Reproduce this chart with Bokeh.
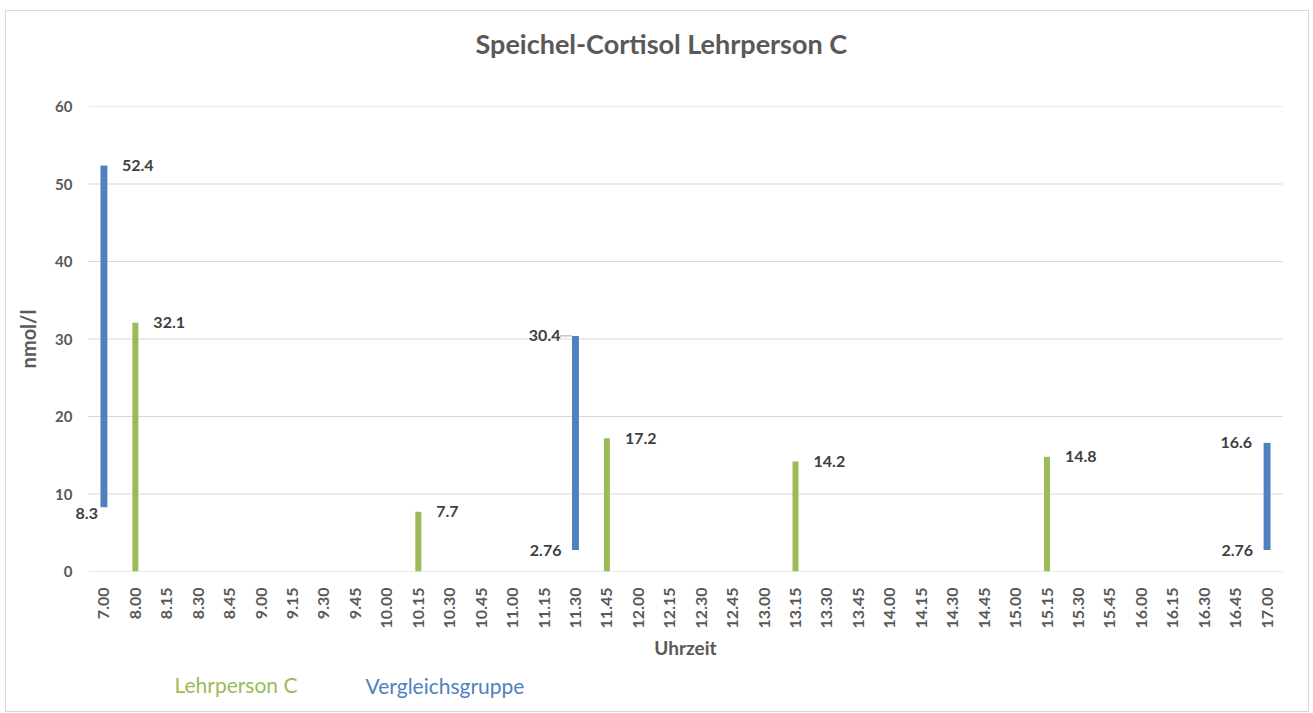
from bokeh.plotting import figure
from bokeh.models import (FactorRange, Range1d, ColumnDataSource, LabelSet,
                          LinearAxis, FixedTicker, Title)
from bokeh.core.properties import value
from bokeh.embed import file_html
from bokeh.resources import INLINE

times = ["7.00", "8.00", "8.15", "8.30", "8.45", "9.00", "9.15", "9.30", "9.45",
         "10.00", "10.15", "10.30", "10.45", "11.00", "11.15", "11.30", "11.45",
         "12.00", "12.15", "12.30", "12.45", "13.00", "13.15", "13.30", "13.45",
         "14.00", "14.15", "14.30", "14.45", "15.00", "15.15", "15.30", "15.45",
         "16.00", "16.15", "16.30", "16.45", "17.00"]

teacher_times = ["8.00", "10.15", "11.45", "13.15", "15.15"]
teacher_values = [32.1, 7.7, 17.2, 14.2, 14.8]

group_times = ["7.00", "11.30", "17.00"]
group_low = [8.3, 2.76, 2.76]
group_high = [52.4, 30.4, 16.6]

y_ticks = [0, 10, 20, 30, 40, 50, 60]

series_names = ["Lehrperson C", "Vergleichsgruppe"]

BLUE = "#4F81BD"
GREEN = "#9BBB59"
TXT = "#404040"
TICK = "#595959"
GRID = "#d9d9d9"
FONT = "Lato"

xr = FactorRange(*times, range_padding=0.5, range_padding_units="absolute")
p = figure(x_range=xr, y_range=Range1d(0, 60),
           width=1304, height=702, output_backend="svg", toolbar_location=None,
           min_border_left=66, min_border_right=12, min_border_top=95, min_border_bottom=142)
p.styles = {"border": "1px solid #d9d9d9", "margin-left": "5px", "margin-top": "10px"}
p.outline_line_color = None
p.background_fill_color = "white"
p.border_fill_color = "white"

# spacer between frame and title, then the title (outermost)
p.add_layout(Title(text=" ", text_font_size="1px", standoff=44), "above")
p.title.text = "Speichel-Cortisol Lehrperson C"
p.title.align = "left"
p.title.offset = 403
p.title.standoff = 0
p.title.text_font = FONT
p.title.text_font_style = "bold"
p.title.text_font_size = "27px"
p.title.text_color = TICK

# horizontal grid lines spanning the category area
p.xgrid.grid_line_color = None
p.ygrid.grid_line_color = None
p.segment(x0=[0] * len(y_ticks), x1=[len(times)] * len(y_ticks),
          y0=y_ticks, y1=y_ticks, line_color=GRID, line_width=1)

# y axis
p.yaxis.ticker = y_ticks
p.yaxis.axis_line_color = None
p.yaxis.major_tick_line_color = None
p.yaxis.minor_tick_line_color = None
p.yaxis.major_label_text_font = FONT
p.yaxis.major_label_text_font_style = "bold"
p.yaxis.major_label_text_font_size = "15px"
p.yaxis.major_label_text_color = TICK
p.yaxis.major_label_standoff = -6
p.yaxis.axis_label = "nmol/l"
p.yaxis.axis_label_text_font = FONT
p.yaxis.axis_label_text_font_style = "bold"
p.yaxis.axis_label_text_font_size = "20px"
p.yaxis.axis_label_text_color = TICK
p.yaxis.axis_label_standoff = 12

# x axis
p.xaxis.axis_line_color = None
p.xaxis.major_tick_line_color = None
p.xaxis.minor_tick_line_color = None
p.xaxis.major_label_orientation = 1.5708
p.xaxis.major_label_text_font = FONT
p.xaxis.major_label_text_font_style = "bold"
p.xaxis.major_label_text_font_size = "16px"
p.xaxis.major_label_text_color = TICK
p.xaxis.major_label_standoff = 10
p.xaxis.axis_label = "Uhrzeit"
p.xaxis.axis_label_text_font = FONT
p.xaxis.axis_label_text_font_style = "bold"
p.xaxis.axis_label_text_font_size = "19px"
p.xaxis.axis_label_text_color = TICK
p.xaxis.axis_label_standoff = 5

# bars
gsrc = ColumnDataSource(dict(x=group_times, low=group_low, high=group_high))
p.vbar(x="x", bottom="low", top="high", width=0.22, source=gsrc,
       fill_color=BLUE, line_color=None)

tsrc = ColumnDataSource(dict(x=teacher_times, top=teacher_values,
                             lab=[str(v) for v in teacher_values]))
p.vbar(x="x", bottom=0, top="top", width=0.19, source=tsrc,
       fill_color=GREEN, line_color=None)

# leader line for the 11.30 high label
idx = times.index(group_times[1])
p.segment(x0=[idx + 0.01], x1=[idx + 0.39], y0=[group_high[1]], y1=[group_high[1]],
          line_color="#a6a6a6", line_width=1)

LBL = dict(text_font=value(FONT), text_font_style="bold", text_font_size="16px",
           text_color=TXT, text_baseline="middle")

p.add_layout(LabelSet(x="x", y="top", text="lab", source=tsrc, x_offset=18,
                      text_align="left", **LBL))

hi_first = ColumnDataSource(dict(x=group_times[:1], y=group_high[:1],
                                 t=[str(v) for v in group_high[:1]]))
hi_rest = ColumnDataSource(dict(x=group_times[1:], y=group_high[1:],
                                t=[str(v) for v in group_high[1:]]))
lo_first = ColumnDataSource(dict(x=group_times[:1], y=group_low[:1],
                                 t=[str(v) for v in group_low[:1]]))
lo_rest = ColumnDataSource(dict(x=group_times[1:], y=group_low[1:],
                                t=[str(v) for v in group_low[1:]]))
p.add_layout(LabelSet(x="x", y="y", text="t", source=hi_first, x_offset=18,
                      text_align="left", **LBL))
p.add_layout(LabelSet(x="x", y="y", text="t", source=hi_rest, x_offset=-15,
                      text_align="right", **LBL))
p.add_layout(LabelSet(x="x", y="y", text="t", source=lo_first, x_offset=-6,
                      y_offset=-6, text_align="right", **LBL))
p.add_layout(LabelSet(x="x", y="y", text="t", source=lo_rest, x_offset=-14,
                      text_align="right", **LBL))

# text-only legend, built as two extra axes below (one label each)
LEG_POS = [4.7, 11.35]
LEG_COLORS = [GREEN, BLUE]
LEG_STANDOFF = [3, -33]
for name, pos, col, so in zip(series_names, LEG_POS, LEG_COLORS, LEG_STANDOFF):
    leg = LinearAxis(ticker=FixedTicker(ticks=[pos], minor_ticks=[]),
                     major_label_overrides={pos: name})
    leg.axis_line_color = None
    leg.major_tick_line_color = None
    leg.minor_tick_line_color = None
    leg.major_label_text_font = FONT
    leg.major_label_text_font_size = "21px"
    leg.major_label_text_color = col
    leg.major_label_standoff = so
    p.add_layout(leg, "below")

open("out.html", "w").write(file_html(p, INLINE))
